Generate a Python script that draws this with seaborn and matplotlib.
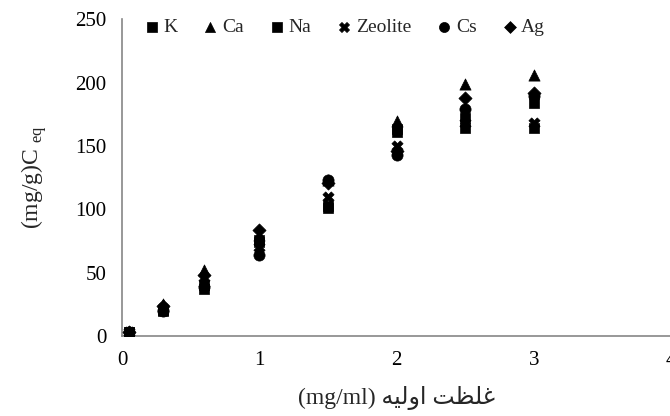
import pandas as pd
import seaborn as sns
import matplotlib.pyplot as plt

# initial concentration (mg/ml) and equilibrium uptake (mg/g) per sorbent
conc = [0.05, 0.3, 0.6, 1, 1.5, 2, 2.5, 3]
k_vals = [3, 20, 37, 76, 101, 161, 164, 164]
ca_vals = [3, 25, 52, 80, 123, 170, 199, 206]
na_vals = [3, 21, 40, 74, 103, 163, 172, 184]
zeolite_vals = [3, 22, 42, 70, 110, 150, 168, 168]
cs_vals = [3, 20, 39, 64, 123, 143, 179, 189]
ag_vals = [3, 24, 48, 84, 121, 146, 188, 192]

series_names = ['K', 'Ca', 'Na', 'Zeolite', 'Cs', 'Ag']
series_vals = [k_vals, ca_vals, na_vals, zeolite_vals, cs_vals, ag_vals]
marker_map = {'K': 's', 'Ca': '^', 'Na': 's', 'Zeolite': 'X', 'Cs': 'o', 'Ag': 'D'}
size_map = {'K': 60, 'Ca': 65, 'Na': 60, 'Zeolite': 65, 'Cs': 65, 'Ag': 45}

rows = []
for name, vals in zip(series_names, series_vals):
    for x, y in zip(conc, vals):
        rows.append({'conc': x, 'ceq': y, 'series': name})
df = pd.DataFrame(rows)

sns.set_style('white')
plt.rcParams['font.family'] = ['Liberation Serif', 'DejaVu Sans']
plt.rcParams['mathtext.fontset'] = 'custom'
plt.rcParams['mathtext.rm'] = 'Liberation Serif'

fig = plt.figure(figsize=(6.7, 4.16), dpi=100)
ax = fig.add_axes([0.182, 0.192, 0.82, 0.762])

for name in series_names:
    sub = df[df['series'] == name]
    sns.scatterplot(data=sub, x='conc', y='ceq', marker=marker_map[name],
                    s=size_map[name], color='black', edgecolor='black',
                    linewidth=0.5, label=name, ax=ax, zorder=3)

ax.set_xlim(0, 4)
ax.set_ylim(0, 250)
ax.set_xticks([0, 1, 2, 3, 4])
ax.set_yticks([0, 50, 100, 150, 200, 250])

for side in ['top', 'right']:
    ax.spines[side].set_visible(False)
for side in ['left', 'bottom']:
    ax.spines[side].set_color('#868686')
    ax.spines[side].set_linewidth(1.2)
ax.tick_params(axis='both', direction='out', length=5, width=1, color='#868686',
               labelsize=15, labelcolor='black')
ax.tick_params(axis='x', pad=6)
ax.tick_params(axis='y', pad=6)

# x label: Persian text given in presentation forms, visual order
arabic = '\ufeea\ufef4\ufedf\ufeed\ufe8d \ufe96\ufec8\ufee0\ufecf'
ax.set_xlabel('(mg/ml) ' + arabic, fontsize=17, labelpad=11)
ax.set_ylabel(r'(mg/g)C $_{\mathrm{eq}}$', fontsize=17, labelpad=19)

ax.legend(loc='center', bbox_to_anchor=(0.405, 0.975), ncol=6, frameon=False,
          fontsize=14, handlelength=0.8, handletextpad=0.2, columnspacing=1.3,
          markerscale=0.9, borderaxespad=0)

fig.savefig('out.png', dpi=100)
